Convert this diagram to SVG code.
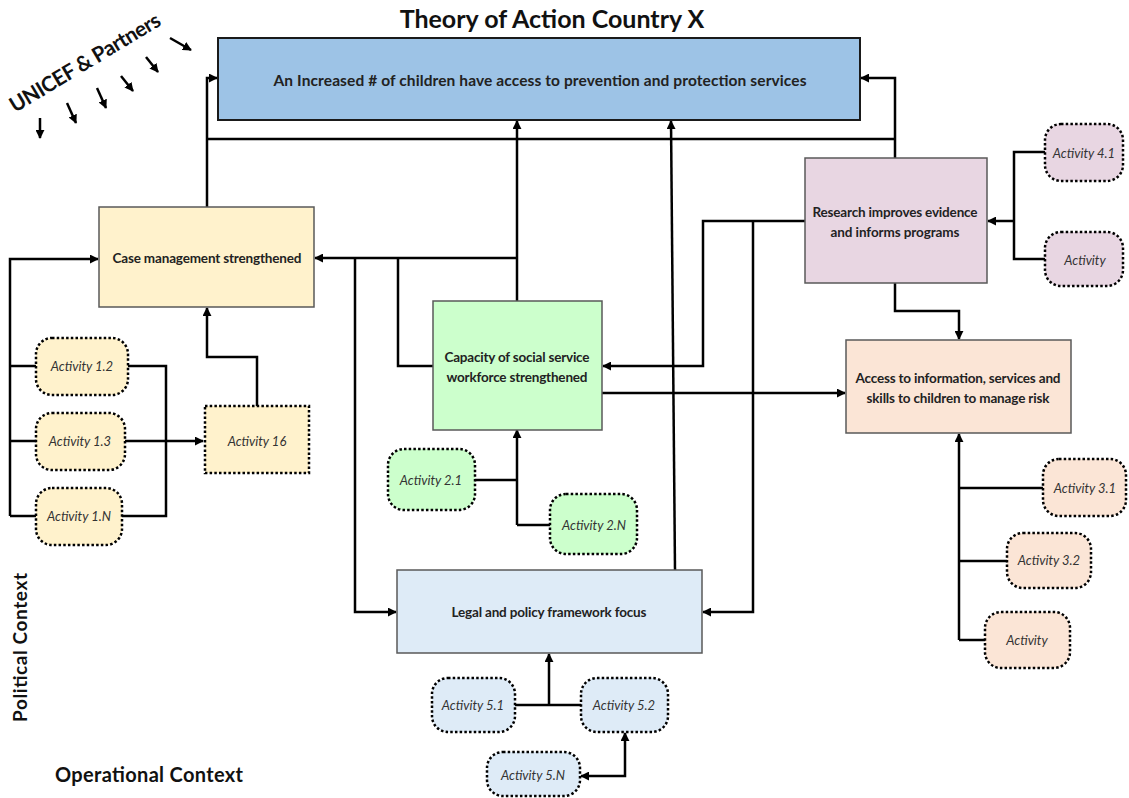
<svg xmlns="http://www.w3.org/2000/svg" width="1129" height="798" viewBox="0 0 1129 798">
<defs>
<marker id="ah" viewBox="0 0 10 10" refX="9" refY="5" markerWidth="9" markerHeight="9" markerUnits="userSpaceOnUse" orient="auto-start-reverse">
<path d="M0,0 L10,5 L0,10 Z" fill="#000"/>
</marker>
<style>
.box{stroke:#595959;stroke-width:1.5}
.top{fill:#9DC3E6;stroke:#1a1a1a;stroke-width:2}
.lbl{font-family:Lato,"Liberation Sans",Arial,sans-serif;font-weight:bold;font-size:13.5px;fill:#222;text-anchor:middle}
.lbl.big{font-size:15.5px}
.act{stroke:#000;stroke-width:2.5;stroke-dasharray:2.5 2.2}
.atx{font-family:Lato,"Liberation Sans",Arial,sans-serif;font-style:italic;font-size:13px;fill:#333;text-anchor:middle}
.c{fill:none;stroke:#000;stroke-width:2.5}
.ca{fill:none;stroke:#000;stroke-width:2.5;marker-end:url(#ah)}
.hd{font-family:Lato,"Liberation Sans",Arial,sans-serif;font-weight:bold;fill:#111}
.y{fill:#FFF2CC}.g{fill:#CCFFCC}.p{fill:#E8D6E2}.o{fill:#FBE5D6}.b{fill:#DEEBF7}
</style>
</defs>
<rect width="1129" height="798" fill="#fff"/>

<text class="hd" x="552" y="28" font-size="25" text-anchor="middle">Theory of Action Country X</text>
<text class="hd" x="15" y="113" font-size="21" textLength="172" transform="rotate(-31 15 113)">UNICEF &amp; Partners</text>
<g id="unicef-arrows">
<path class="ca" d="M40,118 L40,138"/>
<path class="ca" d="M67,103 L76,123"/>
<path class="ca" d="M97,88 L106,108"/>
<path class="ca" d="M121,76 L133,91"/>
<path class="ca" d="M146,57 L158,72"/>
<path class="ca" d="M170,38 L191,50"/>
</g>
<text class="hd" x="27" y="722" font-size="19" textLength="149" transform="rotate(-90 27 722)">Political Context</text>
<text class="hd" x="55" y="782" font-size="20" textLength="188">Operational Context</text>

<g id="connectors">
<path class="ca" d="M207,207 V78 H217"/>
<path class="c" d="M207,139 H895"/>
<path class="ca" d="M895,158 V78 H861"/>
<path class="ca" d="M517,301 V121"/>
<path class="ca" d="M675,570 L671,121"/>
<path class="ca" d="M517,258 H315"/>
<path class="c" d="M433,366 H398 V258"/>
<path class="ca" d="M355,258 V612 H396"/>
<path class="ca" d="M10,516 V259 H98"/>
<path class="c" d="M10,366 H36 M10,441 H36 M10,516 H36"/>
<path class="c" d="M128,366 H166 V516 H122"/>
<path class="ca" d="M125,441 H203"/>
<path class="ca" d="M257,406 V357 H207 V308"/>
<path class="ca" d="M805,221 H703 V366 H603"/>
<path class="ca" d="M753,221 V612 H703"/>
<path class="ca" d="M602,393 H845"/>
<path class="ca" d="M895,283 V311 H959 V339"/>
<path class="c" d="M1045,152 H1014 V259 H1045"/>
<path class="ca" d="M1014,221 H988"/>
<path class="ca" d="M959,640 V434"/>
<path class="c" d="M959,488 H1043 M959,561 H1007 M959,640 H985"/>
<path class="ca" d="M517,525 V430"/>
<path class="c" d="M475,480 H517 M517,525 H550"/>
<path class="ca" d="M549,705 V654"/>
<path class="c" d="M515,705 H581"/>
<path class="ca" d="M581,776 H625 V733" style="marker-start:url(#ah)"/>
</g>

<g id="outcome">
<rect class="top" x="218" y="38" width="642" height="82"/>
<text class="lbl big" x="540" y="86" textLength="533">An Increased # of children have access to prevention and protection services</text>
</g>
<g id="case-management">
<rect class="box y" x="99" y="207" width="215" height="100"/>
<text class="lbl" x="207" y="263" textLength="189">Case management strengthened</text>
</g>
<g id="capacity">
<rect class="box g" x="433" y="301" width="169" height="129"/>
<text class="lbl" x="517" y="362" textLength="145">Capacity of social service</text>
<text class="lbl" x="517" y="382" textLength="141">workforce strengthened</text>
</g>
<g id="research">
<rect class="box p" x="805" y="158" width="182" height="125"/>
<text class="lbl" x="895" y="217" textLength="165">Research improves evidence</text>
<text class="lbl" x="895" y="237" textLength="129">and informs programs</text>
</g>
<g id="access">
<rect class="box o" x="846" y="340" width="225" height="93"/>
<text class="lbl" x="958" y="383" textLength="205">Access to information, services and</text>
<text class="lbl" x="958" y="403" textLength="183">skills to children to manage risk</text>
</g>
<g id="legal">
<rect class="box b" x="397" y="570" width="305" height="83"/>
<text class="lbl" x="549" y="617" textLength="195">Legal and policy framework focus</text>
</g>

<g id="act-1-2"><rect class="act y" x="36" y="338" width="92" height="57" rx="16"/><text class="atx" x="82" y="371">Activity 1.2</text></g>
<g id="act-1-3"><rect class="act y" x="36" y="413" width="89" height="57" rx="16"/><text class="atx" x="80" y="446">Activity 1.3</text></g>
<g id="act-1-n"><rect class="act y" x="36" y="488" width="86" height="57" rx="16"/><text class="atx" x="79" y="521">Activity 1.N</text></g>
<g id="act-16"><rect class="act y" x="205" y="406" width="104" height="67"/><text class="atx" x="257" y="446">Activity 16</text></g>
<g id="act-2-1"><rect class="act g" x="388" y="449" width="87" height="61" rx="16"/><text class="atx" x="431" y="485">Activity 2.1</text></g>
<g id="act-2-n"><rect class="act g" x="550" y="494" width="87" height="60" rx="16"/><text class="atx" x="594" y="530">Activity 2.N</text></g>
<g id="act-4-1"><rect class="act p" x="1045" y="124" width="78" height="57" rx="16"/><text class="atx" x="1084" y="158">Activity 4.1</text></g>
<g id="act-4-n"><rect class="act p" x="1045" y="232" width="78" height="54" rx="16"/><text class="atx" x="1085" y="265">Activity</text></g>
<g id="act-3-1"><rect class="act o" x="1043" y="459" width="83" height="57" rx="16"/><text class="atx" x="1085" y="493">Activity 3.1</text></g>
<g id="act-3-2"><rect class="act o" x="1007" y="533" width="84" height="55" rx="16"/><text class="atx" x="1049" y="565">Activity 3.2</text></g>
<g id="act-3-n"><rect class="act o" x="985" y="612" width="85" height="56" rx="16"/><text class="atx" x="1027" y="645">Activity</text></g>
<g id="act-5-1"><rect class="act b" x="432" y="678" width="83" height="54" rx="16"/><text class="atx" x="473" y="710">Activity 5.1</text></g>
<g id="act-5-2"><rect class="act b" x="581" y="678" width="87" height="54" rx="16"/><text class="atx" x="624" y="710">Activity 5.2</text></g>
<g id="act-5-n"><rect class="act b" x="487" y="752" width="93" height="44" rx="16"/><text class="atx" x="533" y="780">Activity 5.N</text></g>
</svg>
